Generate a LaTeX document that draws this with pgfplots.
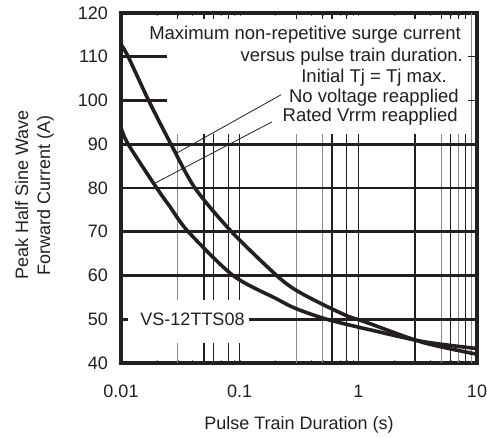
\documentclass[border=0pt]{standalone}
\usepackage{fontspec}
\setmainfont{Liberation Sans}
\usepackage{pgfplots}
\pgfplotsset{compat=1.18}
\definecolor{ink}{HTML}{231F20}
\definecolor{gline}{HTML}{8A8A8A}
\begin{document}
\begin{tikzpicture}[font=\fontsize{18}{22}\selectfont,color=ink,
  vgrid/.style={line width=1.3pt, ink},
  vgray/.style={line width=1.3pt, gline},
  hgrid/.style={line width=2.6pt, ink},
  toptick/.style={line width=1.2pt, ink}]
\useasboundingbox (0pt,0pt) rectangle (487pt,438pt);
\begin{axis}[
  at={(121pt,75pt)}, anchor=south west,
  width=356pt, height=350pt, scale only axis,
  xmode=log, xmin=0.01, xmax=10, ymin=40, ymax=120,
  xtick={0.01,0.1,1,10}, xticklabels={0.01,0.1,1,10},
  ytick={40,50,...,120},
  minor xtick={}, major tick length=0pt,
  log ticks with fixed point,
  /pgf/number format/assume math mode=true,
  xticklabel style={inner sep=0pt, yshift=-22pt, text=ink},
  yticklabel style={inner sep=0pt, xshift=-13pt, text=ink},
  axis line style={line width=3.5pt, ink},
  xlabel={Pulse Train Duration (s)},
  xlabel style={at={(axis description cs:0.5,-0.178)}, anchor=center, inner sep=0pt},
  ylabel={Peak Half Sine Wave\\Forward Current (A)},
  ylabel style={at={(axis description cs:-0.243,0.48)}, anchor=center, align=center, inner sep=0pt},
]
% vertical grid, interrupted around the part number
\draw[vgray] (axis cs:0.03,92.3) -- (axis cs:0.03,54.4) (axis cs:0.03,44.6) -- (axis cs:0.03,40);
\draw[vgrid] (axis cs:0.05,92.3) -- (axis cs:0.05,54.4) (axis cs:0.05,44.6) -- (axis cs:0.05,40);
\draw[vgrid] (axis cs:0.06,92.3) -- (axis cs:0.06,54.4) (axis cs:0.06,44.6) -- (axis cs:0.06,40);
\draw[vgrid] (axis cs:0.08,92.3) -- (axis cs:0.08,54.4) (axis cs:0.08,44.6) -- (axis cs:0.08,40);
\draw[vgrid] (axis cs:0.1,92.3) -- (axis cs:0.1,54.4) (axis cs:0.1,44.6) -- (axis cs:0.1,40);
\draw[vgray] (axis cs:0.3,92.3) -- (axis cs:0.3,40);
\draw[vgray] (axis cs:0.5,92.3) -- (axis cs:0.5,40);
\draw[vgrid] (axis cs:0.6,92.3) -- (axis cs:0.6,40);
\draw[vgrid] (axis cs:0.8,92.3) -- (axis cs:0.8,40);
\draw[vgrid] (axis cs:1,92.3) -- (axis cs:1,40);
\draw[vgrid] (axis cs:3,92.3) -- (axis cs:3,40);
\draw[vgray] (axis cs:5,92.3) -- (axis cs:5,40);
\draw[vgrid] (axis cs:6,92.3) -- (axis cs:6,40);
\draw[vgray] (axis cs:7,92.3) -- (axis cs:7,40);
\draw[vgrid] (axis cs:8,92.3) -- (axis cs:8,40);
\draw[vgray] (axis cs:9,120) -- (axis cs:9,40);
% small ticks along the top edge
\draw[toptick] (axis cs:0.03,120) -- (axis cs:0.03,118.7)
  (axis cs:0.05,120) -- (axis cs:0.05,118.7) (axis cs:0.06,120) -- (axis cs:0.06,118.7)
  (axis cs:0.08,120) -- (axis cs:0.08,118.7) (axis cs:0.3,120) -- (axis cs:0.3,118.7)
  (axis cs:0.5,120) -- (axis cs:0.5,118.7) (axis cs:0.6,120) -- (axis cs:0.6,118.7)
  (axis cs:0.8,120) -- (axis cs:0.8,118.7) (axis cs:3,120) -- (axis cs:3,118.7)
  (axis cs:5,120) -- (axis cs:5,118.7) (axis cs:6,120) -- (axis cs:6,118.7)
  (axis cs:7,120) -- (axis cs:7,118.7) (axis cs:8,120) -- (axis cs:8,118.7);
% horizontal grid
\draw[hgrid] (axis cs:0.01,90) -- (axis cs:10,90);
\draw[hgrid] (axis cs:0.01,80) -- (axis cs:10,80);
\draw[hgrid] (axis cs:0.01,70) -- (axis cs:10,70);
\draw[hgrid] (axis cs:0.01,60) -- (axis cs:10,60);
\draw[hgrid] (axis cs:0.01,50) -- (axis cs:0.01146,50);
\draw[hgrid] (axis cs:0.119,50) -- (axis cs:10,50);
\draw[hgrid] (axis cs:0.01,110) -- (axis cs:0.0244,110);
\draw[hgrid] (axis cs:0.01,100) -- (axis cs:0.0244,100);
\draw[line width=1.5pt, ink] (axis cs:8.4,110) -- (axis cs:10,110);
\draw[line width=1.5pt, ink] (axis cs:8.4,100) -- (axis cs:10,100);
% no voltage reapplied
\addplot[line width=3.6pt, ink, smooth] coordinates {
  (0.01,112.8) (0.0115,110) (0.0171,100) (0.0264,90) (0.042,80)
  (0.0855,70) (0.205,60) (0.3,56.6) (0.5,53.4) (0.8,50.8) (1,49.9)
  (1.25,49.0) (3.5,44.7) (10,42)
};
% rated Vrrm reapplied
\addplot[line width=3.6pt, ink, smooth] coordinates {
  (0.01,93.8) (0.0115,90) (0.02,80) (0.0259,75.7) (0.0369,70) (0.088,60)
  (0.2,54.8) (0.3,52.4) (0.541,50) (1,48.2) (1.25,47.6) (3.5,44.9) (10,43.3)
};
% pointers
\draw[line width=0.8pt,ink] (axis cs:0.0296,88) -- (axis cs:0.223,101.3);
\draw[line width=0.8pt,ink] (axis cs:0.0193,81.1) -- (axis cs:0.187,95.1);
\end{axis}
\begin{scope}[font=\fontsize{18.5}{22}\selectfont]
\node[anchor=base east, inner sep=0pt] at (461pt,398pt) {Maximum non-repetitive surge current};
\node[anchor=base east, inner sep=0pt] at (463pt,376pt) {versus pulse train duration.};
\node[anchor=base east, inner sep=0pt] at (447pt,355pt) {Initial Tj = Tj max.};
\node[anchor=base east, inner sep=0pt] at (459pt,335pt) {No voltage reapplied};
\node[anchor=base east, inner sep=0pt] at (458pt,316pt) {Rated Vrrm reapplied};
\end{scope}
\node[anchor=base, inner sep=0pt] at (192.5pt,112.5pt) {VS-12TTS08};
\end{tikzpicture}
\end{document}
